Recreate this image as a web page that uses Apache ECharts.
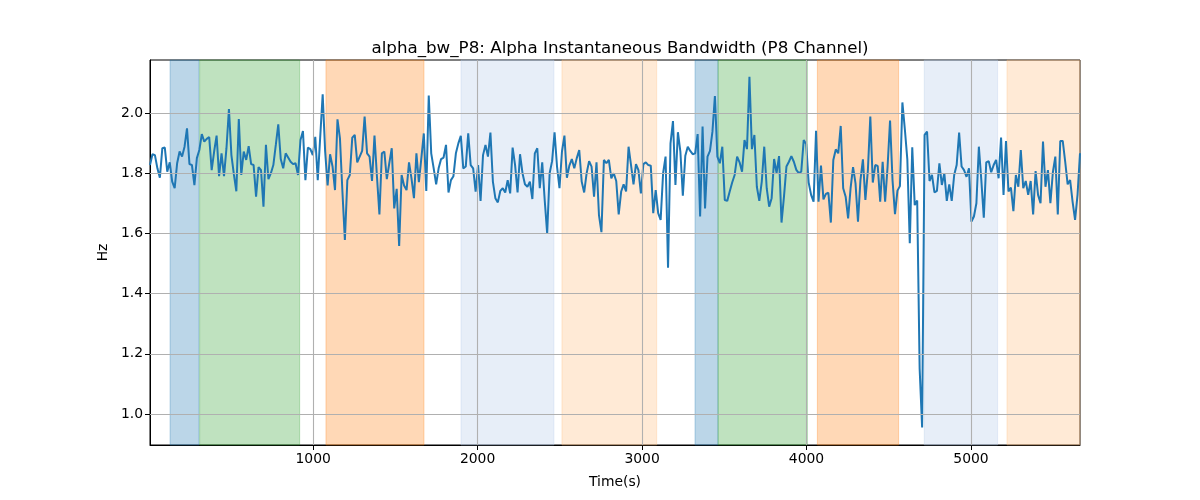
<!DOCTYPE html>
<html>
<head>
<meta charset="utf-8">
<script src="https://cdn.jsdelivr.net/npm/echarts@6/dist/echarts.min.js"></script>
<style>html,body{margin:0;padding:0;background:#fff}#c{width:1200px;height:500px}</style>
</head>
<body>
<div id="c"></div>
<script>
// ---- data ----
const T0 = 8;        // first sample time (s)
const STEP = 15;     // sampling interval (s)
const bwValues = [
 1.827,1.863,1.86,1.816,1.785,1.883,1.885,1.805,1.836,1.772,1.75,1.833,1.872,1.855,1.888,1.949,1.83,1.827,1.76,1.85,
 1.877,1.93,1.905,1.914,1.92,1.81,1.872,1.925,1.79,1.866,1.79,1.883,2.013,1.86,1.796,1.74,1.98,1.794,1.872,1.844,
 1.89,1.83,1.827,1.722,1.82,1.81,1.689,1.894,1.78,1.8,1.827,1.894,1.962,1.847,1.816,1.866,1.852,1.838,1.83,1.833,
 1.794,1.91,1.94,1.777,1.885,1.88,
 1.86,1.921,1.777,1.92,2.062,1.872,1.759,1.863,1.822,1.744,1.979,1.916,1.739,1.578,1.777,1.794,1.918,1.927,1.836,1.855,
 1.874,1.988,1.866,1.855,1.774,1.925,1.789,1.663,1.866,1.872,1.78,1.833,1.883,1.683,1.748,1.558,1.794,1.759,1.744,1.836,
 1.783,1.717,1.866,1.77,1.85,1.932,1.741,2.058,1.866,1.816,1.763,1.816,1.847,1.852,1.894,1.736,1.777,1.79,1.866,1.899,
 1.924,1.816,1.822,
 1.932,1.827,1.816,1.739,1.827,1.708,1.86,1.894,1.855,1.935,1.772,1.717,1.703,1.741,1.75,1.736,1.777,1.733,1.885,1.827,
 1.736,1.863,1.8,1.763,1.755,1.772,1.714,1.866,1.883,1.75,1.836,1.711,1.60,1.8,1.84,1.936,1.822,1.75,1.872,1.925,
 1.785,1.825,1.847,1.816,1.85,1.877,1.772,1.736,1.8,1.84,1.822,1.722,1.836,1.661,1.604,1.844,1.833,1.844,1.783,1.8,
 1.774,1.663,1.739,
 1.763,1.739,1.888,1.827,1.763,1.83,1.81,1.733,1.83,1.836,1.827,1.825,1.667,1.744,1.667,1.645,1.80,1.855,1.486,1.899,
 1.973,1.761,1.936,1.872,1.725,1.858,1.888,1.874,1.863,1.866,1.93,1.656,1.955,1.683,1.855,1.874,1.938,2.056,1.855,1.833,
 1.888,1.711,1.708,1.739,1.769,1.794,1.855,1.836,1.805,1.91,1.88,2.12,1.88,1.927,1.755,1.708,1.772,1.888,1.75,1.689,
 1.717,1.847,1.80,
 1.857,1.636,1.722,1.822,1.838,1.857,1.838,1.811,1.80,1.805,1.91,1.897,1.769,1.728,1.705,1.941,1.705,1.825,1.713,1.731,
 1.735,1.636,1.844,1.879,1.866,1.957,1.75,1.722,1.65,1.75,1.82,1.766,1.639,1.777,1.846,1.711,1.808,1.988,1.769,1.827,
 1.824,1.705,1.838,1.705,1.822,1.975,1.777,1.664,1.742,1.757,2.035,1.946,1.846,1.567,1.886,1.694,1.709,1.15,0.955,1.927,
 1.938,1.774,1.794,1.736,1.741,1.833,1.761,1.80,1.708,1.763,1.708,1.794,1.827,1.935,1.822,1.81,1.788,1.816,1.639,1.656,
 1.70,1.888,1.777,1.652,1.836,1.84,1.803,1.827,1.844,1.783,1.918,1.728,1.907,1.739,1.752,1.674,1.794,1.755,1.877,1.75,
 1.774,1.728,1.774,1.663,1.807,1.728,1.70,1.905,1.755,1.81,1.70,1.803,1.855,1.663,1.907,1.907,1.838,1.763,1.777,1.705,
 1.645,1.728,1.866
];
const bandStarts = [130, 310, 1078, 1899, 2513, 3322, 3462, 4066, 4716, 5219];
const bandEnds   = [306, 918, 1674, 2464, 3089, 3462, 4005, 4560, 5162, 5663];
const bandKinds  = ['blue','green','orange','lightblue','lightorange','blue','green','orange','lightblue','lightorange'];
const xTicks = [1000, 2000, 3000, 4000, 5000];
const yTicks = [1.0, 1.2, 1.4, 1.6, 1.8, 2.0];
const X_MIN = 8, X_MAX = 5663, Y_MIN = 0.897, Y_MAX = 2.176;
const TITLE = 'alpha_bw_P8: Alpha Instantaneous Bandwidth (P8 Channel)';

// ---- styles ----
const bandColor = {
  blue: 'rgba(31,119,180,0.3)',
  green: 'rgba(44,160,44,0.3)',
  orange: 'rgba(255,127,14,0.3)',
  lightblue: 'rgba(174,199,232,0.3)',
  lightorange: 'rgba(255,187,120,0.3)'
};
const FONT = 'DejaVu Sans';

const lineData = bwValues.map((v, i) => [T0 + i * STEP, v]);
const areas = bandStarts.map((s, i) => [
  { xAxis: s, itemStyle: { color: bandColor[bandKinds[i]], borderColor: bandColor[bandKinds[i]], borderWidth: 1 } },
  { xAxis: bandEnds[i] }
]);
const gridLines = yTicks.map(v => ({ yAxis: v })).concat(xTicks.map(v => ({ xAxis: v })));

const chart = echarts.init(document.getElementById('c'), null, { renderer: 'canvas' });
chart.setOption({
  animation: false,
  backgroundColor: '#fff',
  title: {
    text: TITLE, left: 615, top: 35, textAlign: 'center',
    textStyle: { fontFamily: FONT, fontSize: 16.7, fontWeight: 'normal', color: '#000' }
  },
  grid: { left: 150, right: 120, top: 60, bottom: 55, show: true, borderColor: '#000', borderWidth: 1, backgroundColor: 'transparent' },
  xAxis: {
    type: 'value', min: X_MIN, max: X_MAX,
    name: 'Time(s)', nameLocation: 'middle', nameGap: 30,
    nameTextStyle: { fontFamily: FONT, fontSize: 13.9, color: '#000' },
    axisLine: { show: true, onZero: false, lineStyle: { color: '#000', width: 1 } },
    axisTick: { show: true, length: 5, customValues: xTicks, lineStyle: { color: '#000' } },
    axisLabel: { customValues: xTicks, fontFamily: FONT, fontSize: 13.9, color: '#000', margin: 7,
      formatter: v => String(Math.round(v)) },
    splitLine: { show: false }
  },
  yAxis: {
    type: 'value', min: Y_MIN, max: Y_MAX,
    name: 'Hz', nameLocation: 'middle', nameGap: 37, nameRotate: 90,
    nameTextStyle: { fontFamily: FONT, fontSize: 13.9, color: '#000' },
    axisLine: { show: true, onZero: false, lineStyle: { color: '#000', width: 1 } },
    axisTick: { show: true, length: 5, customValues: yTicks, lineStyle: { color: '#000' } },
    axisLabel: { customValues: yTicks, fontFamily: FONT, fontSize: 13.9, color: '#000', margin: 7,
      formatter: v => v.toFixed(1) },
    splitLine: { show: false }
  },
  series: [
    {
      type: 'line', data: [], z: 1, silent: true,
      markArea: { silent: true, data: areas }
    },
    {
      type: 'line', data: [], z: 2, silent: true,
      markLine: { silent: true, symbol: 'none', label: { show: false },
        lineStyle: { color: '#b0b0b0', width: 1.1, type: 'solid' }, data: gridLines }
    },
    {
      type: 'line', data: lineData, z: 3, showSymbol: false, symbol: 'none',
      lineStyle: { color: '#1f77b4', width: 2 }, itemStyle: { color: '#1f77b4' }
    }
  ]
});
</script>
</body>
</html>
